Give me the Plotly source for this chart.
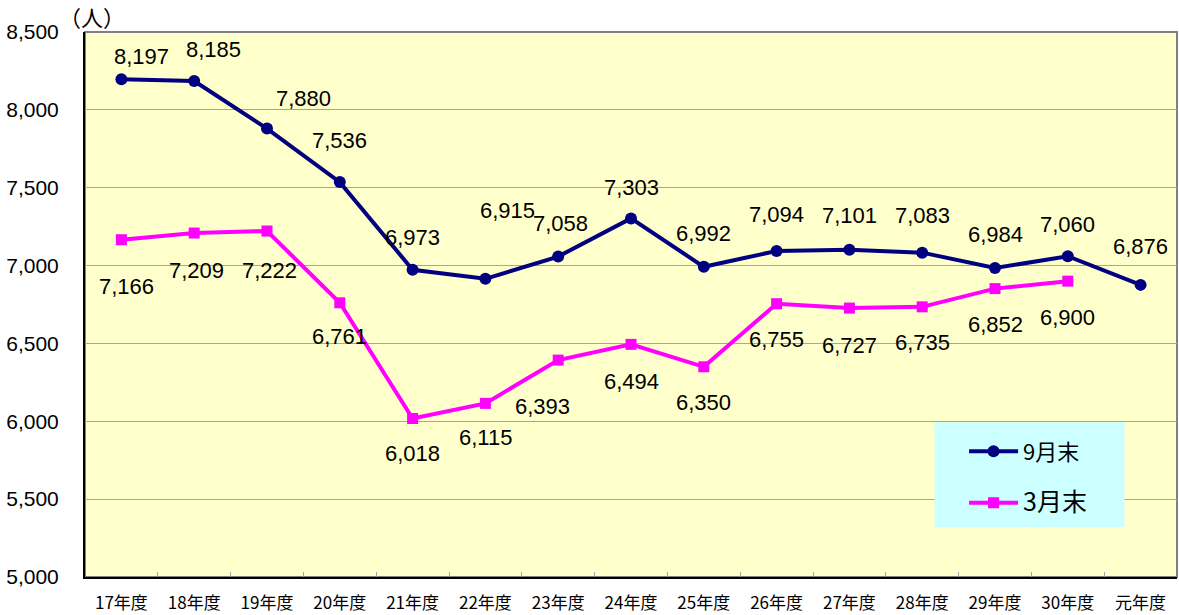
import plotly.graph_objects as go

categories = ["17年度", "18年度", "19年度", "20年度", "21年度", "22年度", "23年度",
              "24年度", "25年度", "26年度", "27年度", "28年度", "29年度", "30年度", "元年度"]
sep_values = [8197, 8185, 7880, 7536, 6973, 6915, 7058, 7303, 6992, 7094, 7101, 7083, 6984, 7060, 6876]
mar_values = [7166, 7209, 7222, 6761, 6018, 6115, 6393, 6494, 6350, 6755, 6727, 6735, 6852, 6900]
y_ticks = [5000, 5500, 6000, 6500, 7000, 7500, 8000, 8500]
y_tick_labels = ["5,000", "5,500", "6,000", "6,500", "7,000", "7,500", "8,000", "8,500"]

# label offsets in pixels (style)
sep_label_shift = [(20, 23), (19, 32), (36, 30), (0, 42), (0, 32), (22, 68), (2, 33), (0, 31),
                   (0, 33), (0, 36), (0, 34), (0, 37), (0, 34), (0, 32), (0, 38)]
mar_label_shift = [(5, -47), (2, -37), (2, -39), (0, -34), (0, -35), (0, -34), (-16, -46), (0, -37),
                   (0, -36), (0, -36), (0, -37), (0, -36), (0, -36), (0, -36)]

FONT = "Liberation Sans, Arial, Noto Sans CJK JP, sans-serif"
CJK = "Noto Sans CJK JP, sans-serif"

fig = go.Figure()
fig.add_trace(go.Scatter(
    x=categories, y=sep_values, name="9月末", mode="lines+markers",
    line=dict(color="#000080", width=4), marker=dict(symbol="circle", size=12, color="#000080"),
    legendgroup="a", hoverinfo="skip"))
fig.add_trace(go.Scatter(
    x=categories[:len(mar_values)], y=mar_values,
    name="<span style='font-size:25px'>3月末</span>", mode="lines+markers",
    line=dict(color="#FF00FF", width=4), marker=dict(symbol="square", size=11, color="#FF00FF"),
    legendgroup="b", hoverinfo="skip"))

annotations = []
for c, v, (dx, dy) in zip(categories, sep_values, sep_label_shift):
    annotations.append(dict(x=c, y=v, xref="x", yref="y", text=f"{v:,}", showarrow=False,
                            xshift=dx, yshift=dy, font=dict(family=FONT, size=22, color="black")))
for c, v, (dx, dy) in zip(categories, mar_values, mar_label_shift):
    annotations.append(dict(x=c, y=v, xref="x", yref="y", text=f"{v:,}", showarrow=False,
                            xshift=dx, yshift=dy, font=dict(family=FONT, size=22, color="black")))
annotations.append(dict(x=0.006, y=1.0, xref="paper", yref="paper", text="（人）", showarrow=False,
                        xanchor="center", yanchor="bottom", yshift=-2,
                        font=dict(family=CJK, size=22, color="black")))

shapes = [
    dict(type="rect", xref="paper", yref="paper", x0=0, x1=1, y0=0, y1=1,
         line=dict(color="#808080", width=2), fillcolor="rgba(0,0,0,0)", layer="below"),
    dict(type="rect", xref="paper", yref="paper", x0=0.778, x1=0.952, y0=0.0917, y1=0.284,
         line=dict(width=0), fillcolor="#CCFFFF", layer="above"),
]

fig.update_layout(
    width=1179, height=615,
    margin=dict(l=85, r=2, t=32, b=38, autoexpand=False),
    paper_bgcolor="white", plot_bgcolor="#FFFFCC",
    font=dict(family=FONT, color="black"),
    showlegend=True,
    legend=dict(x=0.805, y=0.269, xanchor="left", yanchor="top", bgcolor="rgba(0,0,0,0)",
                font=dict(family=CJK, size=22, color="black"), tracegroupgap=20,
                itemwidth=49),
    annotations=annotations,
    shapes=shapes,
    xaxis=dict(type="category", showgrid=False, showline=True, linecolor="black", linewidth=2,
               ticks="inside", tickson="boundaries", ticklen=5, tickcolor="#A0A0A0",
               tickfont=dict(family=CJK, size=17, color="black"), ticklabelstandoff=10,
               range=[-0.5, len(categories) - 0.5], fixedrange=True, automargin=False),
    yaxis=dict(range=[5000, 8500], tickvals=y_ticks, ticktext=y_tick_labels,
               showgrid=True, gridcolor="#A8A890", gridwidth=1, zeroline=False,
               showline=True, linecolor="black", linewidth=2, ticks="",
               tickfont=dict(family=FONT, size=21, color="black"), ticklabelstandoff=20,
               fixedrange=True, automargin=False),
)

fig.write_html("out.html", config={"displayModeBar": False},
               post_script="document.body.style.margin='0';document.body.style.overflow='hidden';")
